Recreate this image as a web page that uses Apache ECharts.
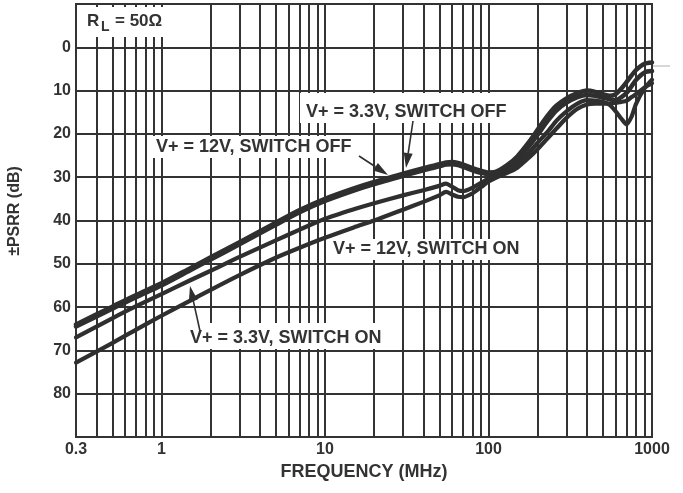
<!DOCTYPE html>
<html>
<head>
<meta charset="utf-8">
<script src="https://cdn.jsdelivr.net/npm/echarts@6/dist/echarts.min.js"></script>
<style>
  html, body { margin: 0; padding: 0; background: #ffffff; }
  #chart { width: 683px; height: 493px; }
</style>
</head>
<body>
<div id="chart"></div>
<script>
// Frequency points (MHz) shared by all four PSRR traces
const freqMHz = [0.3, 0.5, 0.7, 1, 1.5, 2, 3, 5, 7, 10, 15, 20, 30, 40, 50, 55, 60, 65, 70, 80, 90,
  100, 110, 130, 150, 180, 200, 230, 260, 300, 350, 400, 450, 500, 550, 600, 650, 700, 750, 800, 900, 1000];

// ±PSRR (dB) for each supply / switch condition
const psrr12vOff = [64.0, 59.9, 57.2, 54.5, 51.0, 48.5, 45.0, 40.5, 37.6, 35.0, 32.6, 31.1, 29.2, 27.9, 27.0, 26.6, 26.5, 26.7, 27.1, 27.9, 28.5,
  28.9, 28.8, 27.2, 25.2, 21.5, 19.0, 15.8, 13.5, 11.8, 10.6, 10.0, 10.3, 10.8, 11.2, 10.8, 9.5, 8.0, 6.5, 5.2, 3.8, 3.5];
const psrr33vOff = [64.5, 60.4, 57.7, 55.0, 51.5, 49.0, 45.5, 41.0, 38.1, 35.5, 33.1, 31.6, 29.7, 28.4, 27.5, 27.1, 27.0, 27.2, 27.6, 28.4, 29.0,
  29.3, 29.3, 27.8, 26.0, 22.5, 20.2, 17.0, 14.6, 12.8, 11.5, 11.0, 11.2, 11.6, 12.0, 12.2, 11.5, 10.5, 9.0, 7.5, 5.8, 5.5];
const psrr12vOn = [67.0, 62.6, 59.8, 57.0, 53.8, 51.6, 48.4, 44.6, 42.1, 39.6, 37.4, 36.0, 34.2, 33.0, 32.0, 31.5, 32.2, 33.0, 33.2, 32.4, 31.3,
  30.3, 29.6, 28.5, 27.0, 24.0, 22.0, 19.5, 17.0, 14.8, 13.0, 12.2, 12.3, 12.6, 13.3, 14.8, 16.5, 17.8, 16.0, 13.0, 9.5, 7.5];
const psrr33vOn = [72.8, 68.3, 65.2, 62.0, 58.5, 56.0, 52.6, 48.6, 46.3, 44.0, 41.6, 40.0, 37.5, 35.7, 34.2, 33.4, 34.0, 34.5, 34.6, 33.7, 32.3,
  31.0, 30.2, 29.0, 27.8, 25.2, 23.5, 21.0, 18.8, 16.3, 14.2, 13.2, 13.0, 13.0, 13.0, 12.8, 12.6, 12.3, 11.5, 10.8, 9.3, 8.3];

// Vertical grid positions inside each decade (MHz)
const gridFreqs = [0.4, 0.5, 0.6, 0.7, 0.8, 0.9, 1, 2, 3, 4, 5, 6, 7, 8, 9, 10, 20, 30, 40, 50, 60, 70, 80, 90,
  100, 200, 300, 400, 500, 600, 700, 800, 900];

// Tick labels
const xTickLabels = ['0.3', '1', '10', '100', '1000'];
const yTickLabels = ['0', '10', '20', '30', '40', '50', '60', '70', '80'];

const INK = '#2f2f2f';
const GRID_INK = '#333333';
const FONT = '"Liberation Sans", Arial, Helvetica, sans-serif';

function pairs(ys) { return freqMHz.map((f, i) => [f, ys[i]]); }

function curve(name, ys, width) {
  return {
    name: name, type: 'line', data: pairs(ys), z: 10,
    showSymbol: false, symbol: 'none', smooth: 0.25,
    lineStyle: { color: INK, width: width, cap: 'round', join: 'round' },
    silent: true
  };
}

function textEl(str, x, y, size, align) {
  return {
    type: 'text', z: 7, silent: true,
    style: { text: str, x: x, y: y, fill: GRID_INK, font: 'bold ' + size + 'px ' + FONT,
      align: align || 'left', verticalAlign: 'middle' }
  };
}

function box(x, y, w, h) {
  return { type: 'rect', z: 6, silent: true, shape: { x: x, y: y, width: w, height: h },
    style: { fill: '#ffffff' } };
}

function arrow(x1, y1, x2, y2) {
  const dx = x2 - x1, dy = y2 - y1, len = Math.hypot(dx, dy);
  const ux = dx / len, uy = dy / len, px = -uy, py = ux;
  const headLen = 15, headW = 4.5;
  const bx = x2 - ux * headLen, by = y2 - uy * headLen;
  return [
    { type: 'line', z: 12, silent: true, shape: { x1: x1, y1: y1, x2: bx, y2: by },
      style: { stroke: INK, lineWidth: 1.6 } },
    { type: 'polygon', z: 12, silent: true,
      shape: { points: [[x2, y2], [bx + px * headW, by + py * headW], [bx - px * headW, by - py * headW]] },
      style: { fill: INK } }
  ];
}

const chart = echarts.init(document.getElementById('chart'), null, { renderer: 'canvas' });

const graphics = [
  box(80, 7, 95, 30),
  box(300, 93, 218, 30),
  box(151, 136, 214, 22),
  box(328, 239, 200, 21),
  box(185, 323, 206, 26),
  textEl('R', 87, 21, 17),
  textEl('L', 101, 27.5, 14),
  textEl('= 50Ω', 115, 21, 17),
  textEl('V+ = 3.3V, SWITCH OFF', 306, 112, 18),
  textEl('V+ = 12V, SWITCH OFF', 156, 147.5, 18),
  textEl('V+ = 12V, SWITCH ON', 333, 249, 18),
  textEl('V+ = 3.3V, SWITCH ON', 190, 338, 18),
  {
    type: 'text', z: 7, silent: true, x: 15, y: 211, rotation: Math.PI / 2,
    style: { text: '±PSRR (dB)', x: 0, y: 0, fill: GRID_INK, font: 'bold 16px ' + FONT,
      align: 'center', verticalAlign: 'middle' }
  },
  { type: 'line', z: 7, silent: true, shape: { x1: 653, y1: 66, x2: 670, y2: 66 },
    style: { stroke: '#b0b0b0', lineWidth: 1 } }
].concat(arrow(359, 156, 388, 175), arrow(413, 121, 406, 168), arrow(200, 331, 190, 286));

chart.setOption({
  animation: false,
  backgroundColor: '#ffffff',
  grid: { left: 76, top: 4, right: 31, bottom: 56, show: true, borderColor: GRID_INK, borderWidth: 2,
    backgroundColor: 'transparent', containLabel: false },
  xAxis: {
    type: 'log', logBase: 10, min: 0.3, max: 1000,
    name: 'FREQUENCY (MHz)', nameLocation: 'middle', nameGap: 23,
    nameTextStyle: { color: GRID_INK, fontFamily: FONT, fontWeight: 'bold', fontSize: 18 },
    axisLine: { show: false }, axisTick: { show: false }, splitLine: { show: false },
    axisLabel: {
      color: GRID_INK, fontFamily: FONT, fontWeight: 'bold', fontSize: 16, margin: 5,
      showMinLabel: true, showMaxLabel: true,
      formatter: function (v) {
        const s = v < 1 ? String(Math.round(v * 10) / 10) : String(Math.round(v));
        return xTickLabels.indexOf(s) >= 0 ? s : '';
      }
    }
  },
  yAxis: {
    type: 'value', inverse: true, min: -10, max: 90, interval: 10,
    axisLine: { show: false }, axisTick: { show: false },
    splitLine: { show: true, lineStyle: { color: GRID_INK, width: 2 } },
    axisLabel: {
      color: GRID_INK, fontFamily: FONT, fontWeight: 'bold', fontSize: 16, margin: 5,
      formatter: function (v) { const s = String(v); return yTickLabels.indexOf(s) >= 0 ? s : ''; }
    }
  },
  series: [
    {
      name: 'grid', type: 'line', data: [], z: 1, silent: true,
      markLine: {
        z: 1, silent: true, symbol: ['none', 'none'], animation: false,
        label: { show: false },
        lineStyle: { color: GRID_INK, width: 2, type: 'solid' },
        data: gridFreqs.map(f => ({ xAxis: f }))
      }
    },
    curve('V+ = 3.3V, SWITCH ON', psrr33vOn, 4.2),
    curve('V+ = 12V, SWITCH ON', psrr12vOn, 4.2),
    curve('V+ = 3.3V, SWITCH OFF', psrr33vOff, 4.5),
    curve('V+ = 12V, SWITCH OFF', psrr12vOff, 4.5)
  ],
  graphic: { elements: graphics }
});
</script>
</body>
</html>
